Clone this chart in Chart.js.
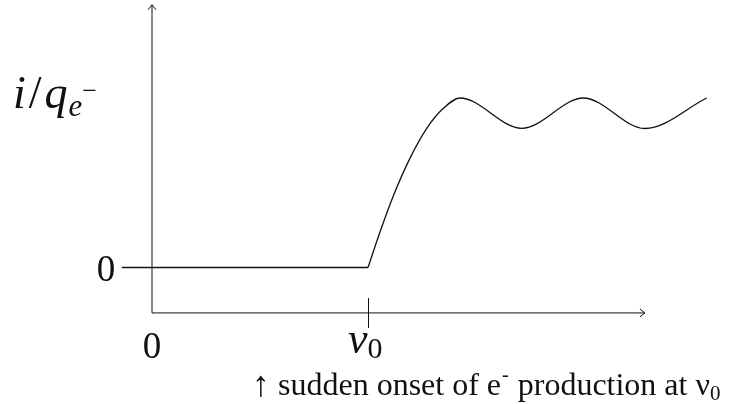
<!DOCTYPE html>
<html>
<head>
<meta charset="utf-8">
<script src="https://cdn.jsdelivr.net/npm/chart.js@4.4.1/dist/chart.umd.min.js"></script>
<style>
  html, body { margin: 0; padding: 0; background: #fff; overflow: hidden; }
  canvas { display: block; }
</style>
</head>
<body>
<canvas id="chart" width="743" height="404"></canvas>
<script>
// photocurrent vs. frequency (nu0 = 10, plateau ~ 1)
const baseX = [-1.4, 10];
const baseY = [0, 0];
const riseX = [10, 10.56, 11.17, 11.94, 12.72, 13.49, 14.26, 17.12, 19.97, 22.82, 25.68];
const riseY = [0, 0.211, 0.422, 0.644, 0.821, 0.939, 1.0, 0.821, 1.0, 0.82, 1.0];

// axes of the sketch (data units)
const axisLevel = -0.268;
const xAxisSpan = [0, 22.82];
const yAxisSpan = [-0.268, 1.55];
const nu0 = 10;
const nuTickSpan = [-0.18, -0.357];

const INK = "#111";
const SERIF = '"Liberation Serif", "DejaVu Serif", serif';

const toPoints = (xs, ys) => xs.map((x, i) => ({ x, y: ys[i] }));

function drawRuns(ctx, x, y, parts) {
  for (const p of parts) {
    ctx.font = p.font;
    ctx.fillText(p.t, x, y + (p.dy || 0));
    x += ctx.measureText(p.t).width + (p.kern || 0);
  }
  return x;
}

const sketchDecor = {
  id: "sketchDecor",
  afterDatasetsDraw(chart) {
    const { ctx, scales } = chart;
    const px = (v) => scales.x.getPixelForValue(v);
    const py = (v) => scales.y.getPixelForValue(v);

    ctx.save();
    ctx.strokeStyle = INK;
    ctx.lineWidth = 1;

    // arrow heads
    const xTip = px(xAxisSpan[1]);
    const xLev = py(axisLevel);
    ctx.beginPath();
    ctx.moveTo(xTip - 5, xLev - 4);
    ctx.lineTo(xTip, xLev);
    ctx.lineTo(xTip - 5, xLev + 4);
    ctx.stroke();

    const yTip = py(yAxisSpan[1]);
    const yLev = px(0);
    ctx.beginPath();
    ctx.moveTo(yLev - 4, yTip + 5);
    ctx.lineTo(yLev, yTip);
    ctx.lineTo(yLev + 4, yTip + 5);
    ctx.stroke();

    // tick at nu0
    const tx = Math.round(px(nu0)) + 0.5;
    ctx.beginPath();
    ctx.moveTo(tx, py(nuTickSpan[0]));
    ctx.lineTo(tx, py(nuTickSpan[1]));
    ctx.stroke();

    ctx.fillStyle = INK;
    ctx.textBaseline = "alphabetic";

    // y tick "0"
    ctx.textAlign = "right";
    ctx.font = "37px " + SERIF;
    ctx.fillText("0", px(-1.7), py(0) + 13);

    // x tick "0"
    ctx.textAlign = "center";
    ctx.fillText("0", px(0), 358);

    // nu0 label
    ctx.textAlign = "left";
    drawRuns(ctx, px(nu0) - 20, 353, [
      { t: "\u03BD", font: "italic 44px " + SERIF },
      { t: "0", font: "30px " + SERIF, dy: 5 },
    ]);

    // y label  i/q_{e^-}
    drawRuns(ctx, 13, 108, [
      { t: "i", font: "italic 46px " + SERIF, kern: 3 },
      { t: "/", font: "46px " + SERIF, kern: 3 },
      { t: "q", font: "italic 46px " + SERIF, kern: 1 },
      { t: "e", font: "italic 31px " + SERIF, dy: 8 },
      { t: "\u2212", font: "26px " + SERIF, dy: -9 },
    ]);

    // caption
    drawRuns(ctx, 252, 396, [{ t: "\u2191", font: "36px " + SERIF }]);
    drawRuns(ctx, 278, 395, [
      { t: "sudden onset of e", font: "32px " + SERIF, kern: 1 },
      { t: "-", font: "20px " + SERIF, dy: -14, kern: 1 },
      { t: " production at \u03BD", font: "32px " + SERIF },
      { t: "0", font: "21px " + SERIF, dy: 5 },
    ]);

    ctx.restore();
  },
};

new Chart(document.getElementById("chart"), {
  type: "line",
  data: {
    datasets: [
      {
        data: toPoints(baseX, baseY),
        borderColor: INK,
        borderWidth: 1.3,
        pointRadius: 0,
        tension: 0,
        clip: false,
      },
      {
        data: toPoints(riseX, riseY),
        borderColor: INK,
        borderWidth: 1.3,
        pointRadius: 0,
        cubicInterpolationMode: "monotone",
        clip: false,
      },
      {
        data: toPoints(xAxisSpan, [axisLevel, axisLevel]),
        borderColor: INK,
        borderWidth: 1,
        pointRadius: 0,
        clip: false,
      },
      {
        data: toPoints([0, 0], yAxisSpan),
        borderColor: INK,
        borderWidth: 1,
        pointRadius: 0,
        clip: false,
      },
    ],
  },
  options: {
    responsive: false,
    animation: false,
    events: [],
    layout: { padding: { left: 98, right: 7.8, top: 4.78, bottom: 51.75 } },
    scales: {
      x: { type: "linear", min: -2.5, max: 27, display: false },
      y: { type: "linear", min: -0.5, max: 1.55, display: false },
    },
    plugins: { legend: { display: false }, tooltip: { enabled: false } },
  },
  plugins: [sketchDecor],
});
</script>
</body>
</html>
